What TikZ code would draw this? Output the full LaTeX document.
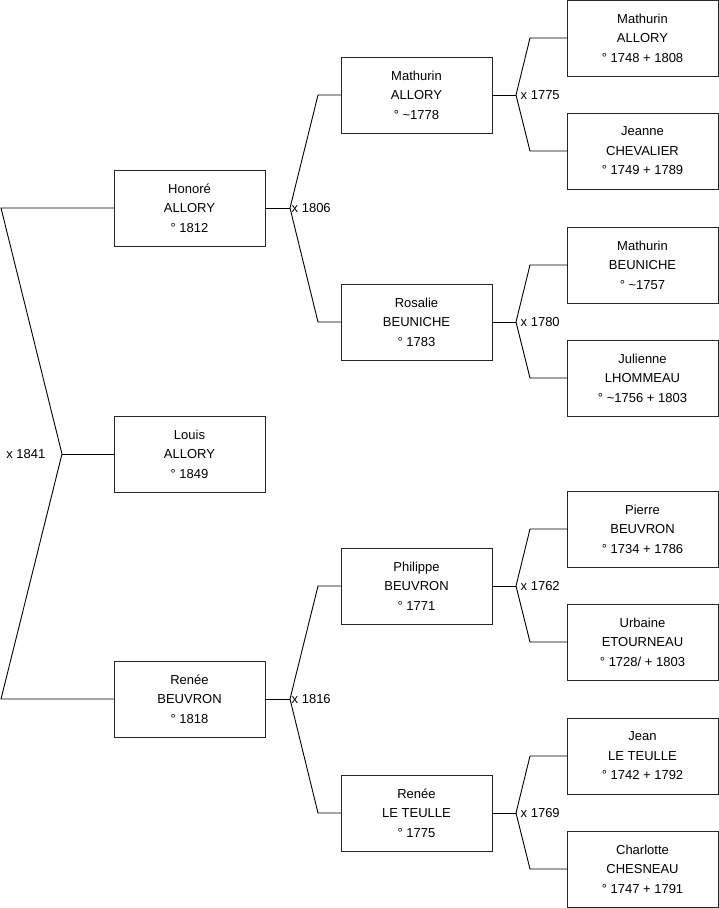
\documentclass[tikz,border=0pt]{standalone}
\usepackage{fontspec}
\setmainfont{Liberation Sans}
\usepackage{tikz}
\usetikzlibrary{positioning}

\begin{document}
\begin{tikzpicture}[
  x=1pt, y=-1pt,
  person/.style={draw=black!85, fill=white, minimum width=151pt, minimum height=76pt,
              align=center, inner sep=0pt, font=\fontsize{13}{19.5}\selectfont},
  lnk/.style={draw=black, line width=0.9pt},
  marr/.style={font=\fontsize{13}{15}\selectfont, inner sep=1.5pt}
]
\useasboundingbox (0,0) rectangle (719,908);

% generation 1
\node[person] (honore) at (189.5,208) {Honoré\\ALLORY\\° 1812};
\node[person] (louis)  at (189.5,454) {Louis\\ALLORY\\° 1849};
\node[person] (renee)  at (189.5,699) {Renée\\BEUVRON\\° 1818};

% generation 2
\node[person] (mathurinA) at (416.5,95)  {Mathurin\\ALLORY\\° \textasciitilde1778};
\node[person] (rosalie)   at (416.5,322) {Rosalie\\BEUNICHE\\° 1783};
\node[person] (philippe)  at (416.5,586) {Philippe\\BEUVRON\\° 1771};
\node[person] (reneeLT)   at (416.5,813) {Renée\\LE TEULLE\\° 1775};

% generation 3
\node[person] (mathurinB) at (642.5,38)  {Mathurin\\ALLORY\\° 1748 + 1808};
\node[person] (jeanne)    at (642.5,151) {Jeanne\\CHEVALIER\\° 1749 + 1789};
\node[person] (mathurinC) at (642.5,265) {Mathurin\\BEUNICHE\\° \textasciitilde1757};
\node[person] (julienne)  at (642.5,378) {Julienne\\LHOMMEAU\\° \textasciitilde1756 + 1803};
\node[person] (pierre)    at (642.5,529) {Pierre\\BEUVRON\\° 1734 + 1786};
\node[person] (urbaine)   at (642.5,642) {Urbaine\\ETOURNEAU\\° 1728/ + 1803};
\node[person] (jean)      at (642.5,756) {Jean\\LE TEULLE\\° 1742 + 1792};
\node[person] (charlotte) at (642.5,869) {Charlotte\\CHESNEAU\\° 1747 + 1791};

% root couple
\coordinate (m0) at (62,454);
\draw[lnk] (honore.west) -- (1,208) -- (m0) -- (1,699) -- (renee.west);
\draw[lnk] (m0) -- (louis.west);
\node[marr, left=15pt of m0] (x1841) {x 1841};

% couples of generation 1
\coordinate (m1) at (290,208);
\draw[lnk] (honore.east) -- (m1);
\draw[lnk] (mathurinA.west) -- (318,95) -- (m1) -- (318,322) -- (rosalie.west);
\node[marr, anchor=west] (x1806) at (m1) {x 1806};

\coordinate (m2) at (290,699);
\draw[lnk] (renee.east) -- (m2);
\draw[lnk] (philippe.west) -- (318,586) -- (m2) -- (318,813) -- (reneeLT.west);
\node[marr, anchor=west] (x1816) at (m2) {x 1816};

% couples of generation 2
\coordinate (m3) at (516,95);
\draw[lnk] (mathurinA.east) -- (m3);
\draw[lnk] (mathurinB.west) -- (530,38) -- (m3) -- (530,151) -- (jeanne.west);
\node[marr, anchor=west, xshift=3pt] (x1775) at (m3) {x 1775};

\coordinate (m4) at (516,322);
\draw[lnk] (rosalie.east) -- (m4);
\draw[lnk] (mathurinC.west) -- (530,265) -- (m4) -- (530,378) -- (julienne.west);
\node[marr, anchor=west, xshift=3pt] (x1780) at (m4) {x 1780};

\coordinate (m5) at (516,586);
\draw[lnk] (philippe.east) -- (m5);
\draw[lnk] (pierre.west) -- (530,529) -- (m5) -- (530,642) -- (urbaine.west);
\node[marr, anchor=west, xshift=3pt] (x1762) at (m5) {x 1762};

\coordinate (m6) at (516,813);
\draw[lnk] (reneeLT.east) -- (m6);
\draw[lnk] (jean.west) -- (530,756) -- (m6) -- (530,869) -- (charlotte.west);
\node[marr, anchor=west, xshift=3pt] (x1769) at (m6) {x 1769};
\end{tikzpicture}
\end{document}
